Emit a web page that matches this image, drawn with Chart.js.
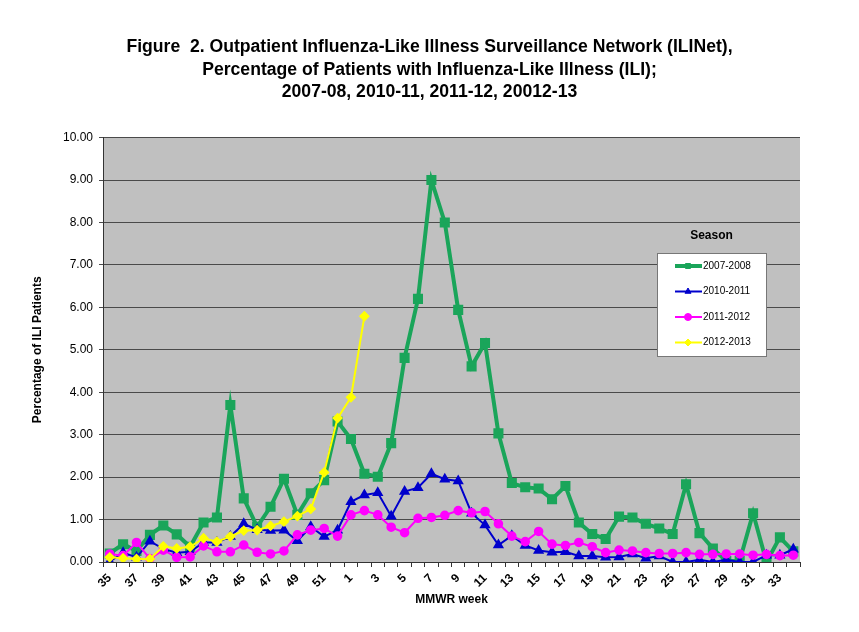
<!DOCTYPE html>
<html>
<head>
<meta charset="utf-8">
<title>ILINet</title>
<script src="https://cdn.jsdelivr.net/npm/chart.js@4.4.0/dist/chart.umd.min.js"></script>
<style>
  html, body { margin: 0; padding: 0; background: #fff; }
</style>
</head>
<body>
<canvas id="ili-chart" width="859" height="632"></canvas>
<script>
// MMWR weeks, season runs week 35 to week 34
const weeks = ["35", "36", "37", "38", "39", "40", "41", "42", "43", "44", "45", "46", "47", "48", "49", "50", "51", "52",
               "1", "2", "3", "4", "5", "6", "7", "8", "9", "10", "11", "12", "13", "14", "15", "16", "17",
               "18", "19", "20", "21", "22", "23", "24", "25", "26", "27", "28", "29", "30", "31", "32", "33", "34"];

const season0708 = [0.20, 0.42, 0.26, 0.64, 0.86, 0.65, 0.36, 0.93, 1.05, 3.70, 1.50, 0.83, 1.30, 1.96, 1.11, 1.62, 1.93, 3.31,
                    2.90, 2.08, 2.01, 2.80, 4.81, 6.20, 9.00, 8.00, 5.94, 4.61, 5.16, 3.03, 1.86, 1.76, 1.73, 1.48, 1.79,
                    0.93, 0.66, 0.54, 1.07, 1.05, 0.90, 0.79, 0.66, 1.83, 0.68, 0.32, 0.02, 0.03, 1.15, 0.00, 0.58, 0.25];

const season1011 = [0.01, 0.22, 0.11, 0.49, 0.31, 0.22, 0.24, 0.46, 0.46, 0.60, 0.90, 0.76, 0.74, 0.75, 0.50, 0.83, 0.60, 0.75,
                    1.42, 1.58, 1.63, 1.08, 1.66, 1.75, 2.08, 1.95, 1.91, 1.15, 0.87, 0.40, 0.62, 0.39, 0.27, 0.23, 0.24,
                    0.14, 0.14, 0.11, 0.12, 0.19, 0.09, 0.14, 0.00, 0.00, 0.05, 0.00, 0.05, 0.00, 0.00, 0.16, 0.16, 0.30];

const season1112 = [0.19, 0.15, 0.46, 0.08, 0.28, 0.11, 0.12, 0.38, 0.24, 0.24, 0.40, 0.23, 0.19, 0.26, 0.64, 0.75, 0.79, 0.61,
                    1.11, 1.21, 1.11, 0.82, 0.69, 1.03, 1.05, 1.10, 1.21, 1.16, 1.19, 0.90, 0.61, 0.48, 0.72, 0.42, 0.39,
                    0.46, 0.36, 0.22, 0.28, 0.26, 0.22, 0.20, 0.20, 0.22, 0.18, 0.18, 0.19, 0.19, 0.16, 0.18, 0.15, 0.16];

// current season, only up to week 2
const season1213 = [0.11, 0.09, 0.07, 0.07, 0.37, 0.32, 0.36, 0.56, 0.48, 0.60, 0.74, 0.75, 0.85, 0.95, 1.08, 1.25, 2.11, 3.39,
                    3.88, 5.79];

const seasonNames = ["2007-2008", "2010-2011", "2011-2012", "2012-2013"];

const FONT = '"Liberation Sans", Arial, sans-serif';

// gray plot background
const plotBackground = {
  id: "plotBackground",
  beforeDraw(chart) {
    const a = chart.chartArea;
    const ctx = chart.ctx;
    ctx.save();
    ctx.fillStyle = "#c0c0c0";
    ctx.fillRect(a.left, a.top, a.right - a.left, a.bottom - a.top);
    ctx.restore();
  }
};

// legend box inside the plot, like the Excel one
const seasonLegend = {
  id: "seasonLegend",
  afterDraw(chart) {
    const ctx = chart.ctx;
    const box = { x: 657, y: 253, w: 109, h: 103 };
    ctx.save();
    ctx.font = "bold 12px " + FONT;
    ctx.fillStyle = "#000";
    ctx.textAlign = "center";
    ctx.textBaseline = "middle";
    ctx.fillText("Season", box.x + box.w / 2, box.y - 17);

    ctx.fillStyle = "#fff";
    ctx.fillRect(box.x, box.y, box.w, box.h);
    ctx.strokeStyle = "#777";
    ctx.lineWidth = 1;
    ctx.strokeRect(box.x + 0.5, box.y + 0.5, box.w, box.h);

    ctx.font = "10px " + FONT;
    ctx.textAlign = "left";
    chart.data.datasets.forEach((ds, i) => {
      const y = box.y + 13 + i * 25.5;
      ctx.strokeStyle = ds.borderColor;
      ctx.lineWidth = ds.borderWidth;
      ctx.beginPath();
      ctx.moveTo(box.x + 18, y);
      ctx.lineTo(box.x + 45, y);
      ctx.stroke();
      if (Chart.helpers && Chart.helpers.drawPoint) {
        ctx.fillStyle = ds.backgroundColor;
        ctx.lineWidth = 1;
        Chart.helpers.drawPoint(ctx, { pointStyle: ds.pointStyle, radius: 3.5, borderWidth: 1, rotation: 0 }, box.x + 31, y);
      }
      ctx.fillStyle = "#000";
      ctx.fillText(ds.label, box.x + 46, y);
    });
    ctx.restore();
  }
};

const ctx = document.getElementById("ili-chart").getContext("2d");

new Chart(ctx, {
  type: "line",
  data: {
    labels: weeks,
    datasets: [
      {
        label: seasonNames[0],
        data: season0708,
        borderColor: "#1aa55a",
        backgroundColor: "#1aa55a",
        borderWidth: 4,
        pointStyle: "rect",
        pointRadius: 4.3,
        order: 4
      },
      {
        label: seasonNames[1],
        data: season1011,
        borderColor: "#0000cc",
        backgroundColor: "#0000cc",
        borderWidth: 2,
        pointStyle: "triangle",
        pointRadius: 4.5,
        order: 3
      },
      {
        label: seasonNames[2],
        data: season1112,
        borderColor: "#ff00ff",
        backgroundColor: "#ff00ff",
        borderWidth: 2,
        pointStyle: "circle",
        pointRadius: 3.8,
        order: 2
      },
      {
        label: seasonNames[3],
        data: season1213,
        borderColor: "#ffff00",
        backgroundColor: "#ffff00",
        borderWidth: 2,
        pointStyle: "rectRot",
        pointRadius: 4,
        order: 1
      }
    ]
  },
  options: {
    responsive: false,
    animation: false,
    layout: { padding: 0 },
    elements: { line: { tension: 0 } },
    plugins: {
      legend: { display: false },
      tooltip: { enabled: false },
      title: {
        display: true,
        text: [
          "Figure  2. Outpatient Influenza-Like Illness Surveillance Network (ILINet),",
          "Percentage of Patients with Influenza-Like Illness (ILI);",
          "2007-08, 2010-11, 2011-12, 20012-13"
        ],
        color: "#000",
        font: { family: FONT, size: 17.6, weight: "bold", lineHeight: 1.28 },
        padding: { top: 36, bottom: 34 }
      }
    },
    scales: {
      x: {
        offset: true,
        grid: { display: true, drawOnChartArea: false, offset: true, tickLength: 5, color: "#333" },
        border: { color: "#333", width: 1 },
        ticks: {
          autoSkip: false,
          maxRotation: 45,
          minRotation: 45,
          color: "#000",
          padding: 4,
          font: { family: FONT, size: 12, weight: "bold" },
          callback: function (value, index) {
            return index % 2 === 0 ? this.getLabelForValue(value) : "";
          }
        },
        title: {
          display: true,
          text: "MMWR week",
          color: "#000",
          font: { family: FONT, size: 12, weight: "bold" },
          padding: { top: 0, bottom: 25 }
        },
        afterFit(scale) { scale.height = 70; }
      },
      y: {
        min: 0,
        max: 10,
        ticks: {
          stepSize: 1,
          color: "#000",
          padding: 6,
          font: { family: FONT, size: 12 },
          callback: (v) => v.toFixed(2)
        },
        grid: { color: "#4a4a4a", tickLength: 4 },
        border: { color: "#333", width: 1 },
        title: {
          display: true,
          text: "Percentage of ILI Patients",
          color: "#000",
          font: { family: FONT, size: 12, weight: "bold" },
          padding: { top: 30, bottom: 0 }
        },
        afterFit(scale) { scale.width = 103; }
      },
      // empty right axis, keeps the white margin on the right
      yRight: {
        position: "right",
        display: true,
        grid: { display: false },
        border: { display: false },
        ticks: { display: false },
        afterFit(scale) { scale.width = 59; }
      }
    }
  },
  plugins: [plotBackground, seasonLegend]
});
</script>
</body>
</html>
